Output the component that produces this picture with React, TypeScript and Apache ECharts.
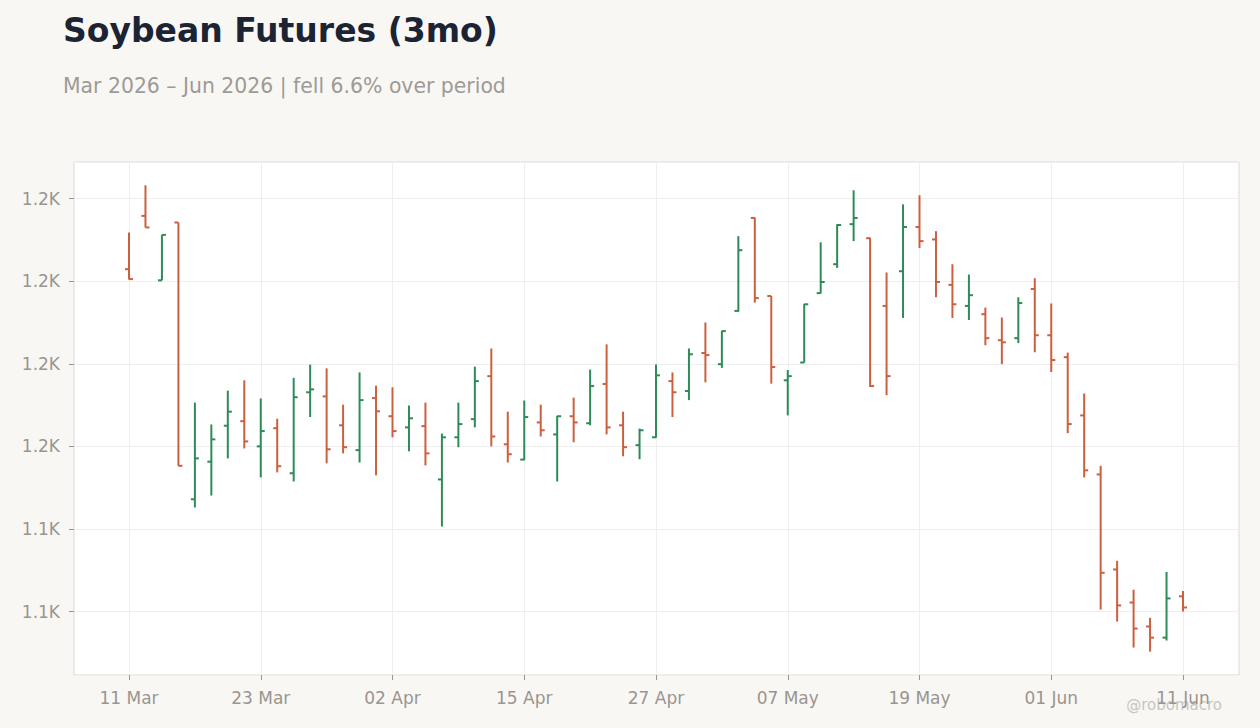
import React, { useRef, useEffect } from 'react';
import * as echarts from 'echarts';

// trading days, Mar–Jun 2026
const dates = [
    '11 Mar', '12 Mar', '13 Mar', '16 Mar', '17 Mar', '18 Mar', '19 Mar', '20 Mar', '23 Mar', '24 Mar',
    '25 Mar', '26 Mar', '27 Mar', '30 Mar', '31 Mar', '01 Apr', '02 Apr', '06 Apr', '07 Apr', '08 Apr',
    '09 Apr', '10 Apr', '13 Apr', '14 Apr', '15 Apr', '16 Apr', '17 Apr', '20 Apr', '21 Apr', '22 Apr',
    '23 Apr', '24 Apr', '27 Apr', '28 Apr', '29 Apr', '30 Apr', '01 May', '04 May', '05 May', '06 May',
    '07 May', '08 May', '11 May', '12 May', '13 May', '14 May', '15 May', '18 May', '19 May', '20 May',
    '21 May', '22 May', '26 May', '27 May', '28 May', '29 May', '01 Jun', '02 Jun', '03 Jun', '04 Jun',
    '05 Jun', '08 Jun', '09 Jun', '10 Jun', '11 Jun',
];

const opens = [
    1202.9, 1215.8, 1200.2, 1214.2, 1147.2, 1156.3, 1165.0, 1166.1, 1160.0, 1164.4,
    1153.5, 1173.1, 1172.1, 1165.1, 1159.1, 1171.7, 1167.3, 1164.6, 1164.9, 1152.0,
    1162.2, 1166.6, 1177.0, 1160.5, 1156.8, 1165.8, 1162.9, 1167.3, 1165.6, 1175.1,
    1165.1, 1160.3, 1162.2, 1175.8, 1173.4, 1182.6, 1179.9, 1192.8, 1215.3, 1196.4,
    1176.0, 1180.3, 1197.1, 1204.1, 1213.8, 1210.4, 1194.0, 1202.4, 1213.1, 1210.1,
    1199.1, 1194.0, 1192.0, 1185.7, 1186.2, 1198.1, 1186.9, 1181.6, 1167.5, 1153.2,
    1130.2, 1122.2, 1116.4, 1113.7, 1123.7,
];

const highs = [
    1211.8, 1223.2, 1211.2, 1214.2, 1170.6, 1165.3, 1173.5, 1176.0, 1171.6, 1166.7,
    1176.6, 1179.8, 1178.9, 1170.1, 1177.9, 1174.7, 1174.3, 1169.9, 1170.6, 1163.1,
    1170.6, 1179.3, 1183.7, 1168.4, 1171.1, 1170.1, 1167.4, 1171.8, 1178.6, 1184.7,
    1168.4, 1164.3, 1179.8, 1177.9, 1183.7, 1190.0, 1188.0, 1210.9, 1215.4, 1196.4,
    1178.5, 1194.5, 1209.4, 1213.8, 1222.0, 1210.5, 1202.1, 1218.6, 1220.8, 1212.1,
    1204.1, 1201.6, 1193.6, 1191.2, 1196.1, 1200.7, 1194.6, 1182.7, 1172.8, 1155.3,
    1132.3, 1125.3, 1118.5, 1129.6, 1125.0,
];

const lows = [
    1200.4, 1213.0, 1200.2, 1155.3, 1145.2, 1148.1, 1157.1, 1159.5, 1152.5, 1153.7,
    1151.5, 1167.1, 1155.9, 1158.3, 1156.1, 1153.0, 1162.2, 1158.8, 1155.4, 1140.6,
    1159.8, 1164.6, 1160.0, 1156.1, 1156.7, 1162.4, 1151.5, 1161.0, 1165.1, 1162.9,
    1157.6, 1156.9, 1162.1, 1167.1, 1171.2, 1175.5, 1179.0, 1192.6, 1194.8, 1175.2,
    1167.5, 1180.3, 1197.0, 1203.2, 1209.7, 1174.4, 1172.4, 1191.1, 1208.0, 1196.1,
    1191.1, 1190.6, 1184.5, 1179.9, 1185.0, 1182.8, 1178.0, 1163.2, 1152.5, 1120.5,
    1117.6, 1111.3, 1110.3, 1113.0, 1120.0,
];

const closes = [
    1200.5, 1213.0, 1211.2, 1155.3, 1157.1, 1161.7, 1168.4, 1161.2, 1163.7, 1155.2,
    1171.9, 1173.8, 1159.3, 1159.8, 1171.2, 1168.5, 1163.7, 1166.8, 1158.3, 1162.2,
    1165.4, 1175.8, 1162.4, 1158.1, 1167.1, 1163.9, 1167.3, 1165.8, 1174.6, 1164.6,
    1159.8, 1163.9, 1177.2, 1173.1, 1182.3, 1182.1, 1187.9, 1207.5, 1195.9, 1179.2,
    1177.0, 1194.4, 1199.8, 1213.6, 1215.3, 1174.6, 1177.0, 1213.1, 1209.7, 1199.8,
    1194.4, 1196.6, 1186.2, 1185.2, 1194.7, 1186.9, 1180.9, 1165.4, 1154.2, 1129.4,
    1121.5, 1115.9, 1113.7, 1123.2, 1121.0,
];

const UP = '#2e8b57';
const DOWN = '#cc5f3f';
const MUTED = '#9a958f';
const FONT = 'DejaVu Sans';

const App: React.FC = () => {
    const chartRef = useRef<HTMLDivElement>(null);

    useEffect(() => {
        if (!chartRef.current) return;
        const chart = echarts.init(chartRef.current, null, { renderer: 'svg' });

        const lo = Math.min(...lows);
        const hi = Math.max(...highs);
        const pad = (hi - lo) * 0.05;
        const yMin = lo - pad;
        const yMax = hi + pad;

        const bars = dates.map((_, i) => [i, opens[i], closes[i], lows[i], highs[i]]);

        const option: echarts.EChartsOption = {
            animation: false,
            backgroundColor: '#f8f7f4',
            textStyle: { fontFamily: FONT },
            title: [
                {
                    text: 'Soybean Futures (3mo)',
                    left: 58,
                    top: 9,
                    textStyle: { fontSize: 33, fontWeight: 'bold', color: '#1c2434', fontFamily: FONT }
                },
                {
                    text: 'Mar 2026 \u2013 Jun 2026 | fell 6.6% over period',
                    left: 58,
                    top: 71,
                    textStyle: { fontSize: 20.4, fontWeight: 'normal', color: '#9e9a95', fontFamily: FONT }
                }
            ],
            grid: [
                {
                    left: 74, right: 21, top: 162, bottom: 53,
                    show: true,
                    backgroundColor: '#ffffff',
                    borderColor: '#ddd8cf',
                    borderWidth: 1
                },
                { left: 129, right: 77, top: 162, bottom: 53 }
            ],
            xAxis: [
                { type: 'value', gridIndex: 0, min: 0, max: 1, show: false },
                {
                    type: 'category',
                    gridIndex: 1,
                    data: dates,
                    boundaryGap: false,
                    axisLine: { show: false },
                    axisTick: { show: true, interval: 7, length: 5, lineStyle: { color: MUTED } },
                    axisLabel: { interval: 7, color: MUTED, fontSize: 17, margin: 14, fontFamily: FONT },
                    splitLine: { show: true, interval: 7, lineStyle: { color: '#eeeeee', width: 1 } }
                }
            ],
            yAxis: [
                {
                    type: 'value',
                    gridIndex: 0,
                    min: yMin,
                    max: yMax,
                    splitNumber: 5,
                    axisLine: { show: false },
                    axisTick: { show: true, length: 5, lineStyle: { color: MUTED } },
                    axisLabel: {
                        color: MUTED,
                        fontSize: 17,
                        margin: 14,
                        fontFamily: FONT,
                        showMinLabel: false,
                        showMaxLabel: false,
                        formatter: (v: number) => (v / 1000).toFixed(1) + 'K'
                    },
                    splitLine: { show: true, lineStyle: { color: '#eeeeee', width: 1 } }
                },
                { type: 'value', gridIndex: 1, min: yMin, max: yMax, show: false }
            ],
            series: [
                {
                    type: 'custom',
                    xAxisIndex: 1,
                    yAxisIndex: 1,
                    data: bars,
                    encode: { x: 0, y: [1, 2, 3, 4] },
                    renderItem: (params: any, api: any) => {
                        const idx = api.value(0);
                        const o = api.coord([idx, api.value(1)]);
                        const c = api.coord([idx, api.value(2)]);
                        const l = api.coord([idx, api.value(3)]);
                        const h = api.coord([idx, api.value(4)]);
                        const color = api.value(2) >= api.value(1) ? UP : DOWN;
                        const style = { stroke: color, lineWidth: 2 };
                        return {
                            type: 'group',
                            children: [
                                { type: 'line', shape: { x1: h[0], y1: h[1], x2: l[0], y2: l[1] }, style },
                                { type: 'line', shape: { x1: o[0] - 4, y1: o[1], x2: o[0], y2: o[1] }, style },
                                { type: 'line', shape: { x1: c[0], y1: c[1], x2: c[0] + 4, y2: c[1] }, style }
                            ]
                        };
                    }
                }
            ],
            graphic: [
                {
                    type: 'text',
                    right: 38,
                    top: 697,
                    style: { text: '@robomacro', fill: '#c9c5bf', fontSize: 15, fontFamily: FONT }
                }
            ]
        };

        chart.setOption(option);

        return () => {
            chart.dispose();
        };
    }, []);

    return (
        <div
            ref={chartRef}
            style={{ position: 'fixed', left: 0, top: 0, width: 1260, height: 728 }}
        />
    );
};

export default App;
